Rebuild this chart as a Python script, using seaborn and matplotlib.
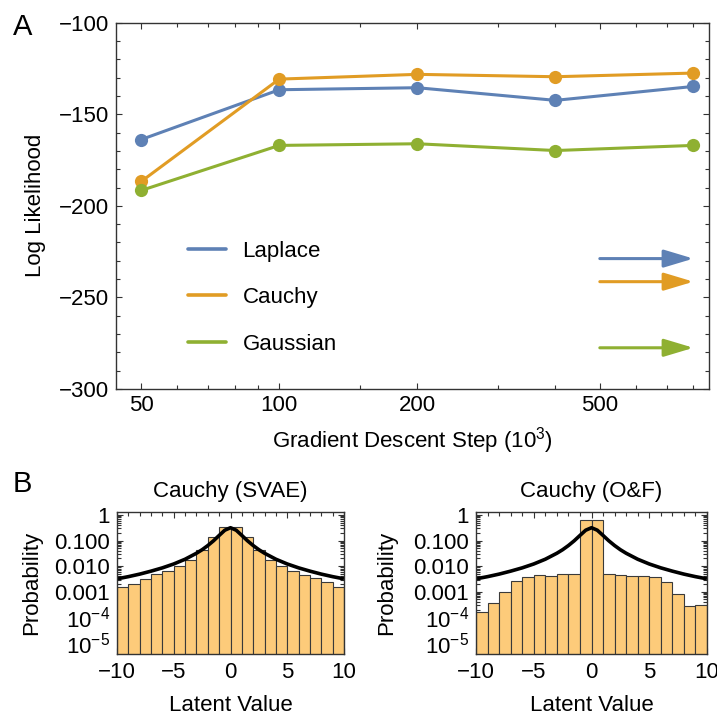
import numpy as np
import pandas as pd
import matplotlib
matplotlib.use("Agg")
import matplotlib.pyplot as plt
from matplotlib.ticker import (FixedLocator, FixedFormatter, LogLocator,
                               MultipleLocator, NullFormatter)
from matplotlib.lines import Line2D
import seaborn as sns

# ---- panel A data ----
steps = [50, 100, 200, 400, 800]          # gradient descent step (10^3)
laplace = [-163.8, -136.6, -135.5, -142.4, -134.8]
cauchy = [-186.7, -130.8, -128.2, -129.5, -127.5]
gaussian = [-191.6, -167.0, -166.1, -169.8, -167.0]
dists = ["Laplace", "Cauchy", "Gaussian"]
# reference levels shown as arrows on the right
ref_levels = [-228.8, -241.4, -277.5]
arrow_from, arrow_to = 500, 800

# ---- panel B data ----
bin_edges = [-10, -9, -8, -7, -6, -5, -4, -3, -2, -1, 0,
             1, 2, 3, 4, 5, 6, 7, 8, 9, 10]
svae_prob = [0.0016, 0.0021, 0.0031, 0.0048, 0.0067, 0.0105, 0.0174, 0.043, 0.135, 0.35,
             0.35, 0.135, 0.043, 0.0174, 0.0101, 0.0065, 0.0046, 0.0034, 0.0024, 0.0016]
of_prob = [0.00016, 0.00035, 0.0010, 0.0026, 0.0039, 0.0045, 0.0043, 0.0050, 0.0048, 0.62,
           0.62, 0.0048, 0.0045, 0.0043, 0.0043, 0.0039, 0.0025, 0.0008, 0.00029, 0.00030]
curve_x = [-10, -9, -8, -7, -6, -5, -4, -3, -2.5, -2, -1.5, -1, -0.5, 0,
           0.5, 1, 1.5, 2, 2.5, 3, 4, 5, 6, 7, 8, 9, 10]
curve_y = [0.0032, 0.0039, 0.0049, 0.0064, 0.0086, 0.0122, 0.0187, 0.032, 0.044, 0.064, 0.098,
           0.159, 0.255, 0.318, 0.255, 0.159, 0.098, 0.064, 0.044, 0.032, 0.0187, 0.0122,
           0.0086, 0.0064, 0.0049, 0.0039, 0.0032]

colors = ["#5E81B5", "#E19C24", "#8FB032"]
bar_color = "#FDCB7A"
FS = 16

sns.set_style("ticks")
plt.rcParams["font.family"] = ["Liberation Sans", "DejaVu Sans"]
plt.rcParams["mathtext.fontset"] = "custom"
plt.rcParams["mathtext.rm"] = "Liberation Sans"
plt.rcParams["text.color"] = "black"
plt.rcParams["axes.labelcolor"] = "black"
plt.rcParams["axes.edgecolor"] = "#333333"
plt.rcParams["xtick.color"] = "#333333"
plt.rcParams["ytick.color"] = "#333333"
plt.rcParams["xtick.labelcolor"] = "black"
plt.rcParams["ytick.labelcolor"] = "black"

fig = plt.figure(figsize=(7.17, 7.19), dpi=100)
W, H = 717.0, 719.0


def px_axes(l, t, r, b):
    return fig.add_axes([l / W, 1 - b / H, (r - l) / W, (b - t) / H])


def style_ticks(ax):
    ax.tick_params(which="both", direction="in", top=True, right=True,
                   width=0.8, labelsize=FS)
    ax.tick_params(which="major", length=4.5)
    ax.tick_params(which="minor", length=2.8)
    for s in ax.spines.values():
        s.set_linewidth(1.0)


# ================= panel A =================
axA = px_axes(115.7, 22.7, 709, 389)
df = pd.DataFrame({
    "step": steps * 3,
    "ll": laplace + cauchy + gaussian,
    "dist": [d for d in dists for _ in steps],
})
sns.lineplot(data=df, x="step", y="ll", hue="dist", hue_order=dists,
             palette=colors, marker="o", markersize=9.5, markeredgewidth=0,
             linewidth=2.2, legend=False, ax=axA)
axA.set_xscale("log")
axA.set_xlim(44, 865)
axA.set_ylim(-300, -100)
axA.xaxis.set_major_locator(FixedLocator([50, 100, 200, 500]))
axA.xaxis.set_major_formatter(FixedFormatter(["50", "100", "200", "500"]))
axA.xaxis.set_minor_locator(FixedLocator([60, 70, 80, 90, 150, 300, 400, 600, 700, 800]))
axA.xaxis.set_minor_formatter(NullFormatter())
axA.yaxis.set_major_locator(MultipleLocator(50))
axA.yaxis.set_minor_locator(MultipleLocator(10))
style_ticks(axA)
axA.tick_params(axis="x", pad=4)
axA.tick_params(axis="y", pad=5)

for lvl, c in zip(ref_levels, colors):
    axA.annotate("", xy=(arrow_to, lvl), xytext=(arrow_from, lvl),
                 arrowprops=dict(arrowstyle="-|>,head_length=0.9,head_width=0.27",
                                 mutation_scale=20, color=c, lw=2.2,
                                 shrinkA=0, shrinkB=0))

handles = [Line2D([], [], color=c, lw=2.6) for c in colors]
axA.legend(handles, dists, loc="upper left", bbox_to_anchor=(0.122, 0.405),
           frameon=False, fontsize=FS, handlelength=1.7, handletextpad=0.75,
           labelspacing=1.15, borderpad=0, borderaxespad=0)

axA.set_xlabel(r"Gradient Descent Step (10$^{\mathregular{3}}$)", fontsize=FS)
axA.set_ylabel("Log Likelihood", fontsize=FS)
axA.xaxis.label.set_va("baseline")
axA.xaxis.set_label_coords(0.5, (389 - 448) / 366.3)
axA.yaxis.label.set_va("center")
axA.yaxis.set_label_coords((35 - 115.7) / 593.3, 0.5)

# ================= panel B =================
panels = [
    (px_axes(117, 512, 344, 654), svae_prob, "Cauchy (SVAE)"),
    (px_axes(476, 512, 707, 654), of_prob, "Cauchy (O&F)"),
]
for ax, probs, title in panels:
    sns.histplot(x=bin_edges[:-1], weights=probs, bins=bin_edges, stat="count",
                 color=bar_color, alpha=1, edgecolor="#3a3a3a", linewidth=0.8, ax=ax)
    ax.plot(curve_x, curve_y, color="black", lw=2.6, solid_capstyle="butt")
    ax.set_yscale("log")
    ax.set_xlim(-10, 10)
    ax.set_ylim(3.7e-6, 1.31)
    ax.xaxis.set_major_locator(MultipleLocator(5))
    ax.xaxis.set_minor_locator(MultipleLocator(1))
    ax.yaxis.set_major_locator(FixedLocator([1e-5, 1e-4, 1e-3, 1e-2, 1e-1, 1]))
    ax.yaxis.set_major_formatter(FixedFormatter(
        [r"$\mathregular{10^{-5}}$", r"$\mathregular{10^{-4}}$",
         "0.001", "0.010", "0.100", "1"]))
    ax.yaxis.set_minor_locator(LogLocator(base=10, subs=range(2, 10), numticks=20))
    ax.yaxis.set_minor_formatter(NullFormatter())
    style_ticks(ax)
    ax.tick_params(axis="x", pad=6)
    ax.tick_params(axis="y", pad=5)
    ax.set_title(title, fontsize=FS, pad=11)
    ax.set_xlabel("Latent Value", fontsize=FS)
    ax.set_ylabel("Probability", fontsize=FS)
    ax.xaxis.label.set_va("baseline")
    ax.xaxis.set_label_coords(0.5, (654 - 711) / 142.0)
    ax.yaxis.label.set_va("center")

panels[0][0].yaxis.set_label_coords(-0.375, 0.5)
panels[1][0].yaxis.set_label_coords(-0.385, 0.5)

fig.text(13 / W, 1 - 35 / H, "A", fontsize=21, va="baseline")
fig.text(13 / W, 1 - 492 / H, "B", fontsize=21, va="baseline")

fig.savefig("out.png", dpi=100)
